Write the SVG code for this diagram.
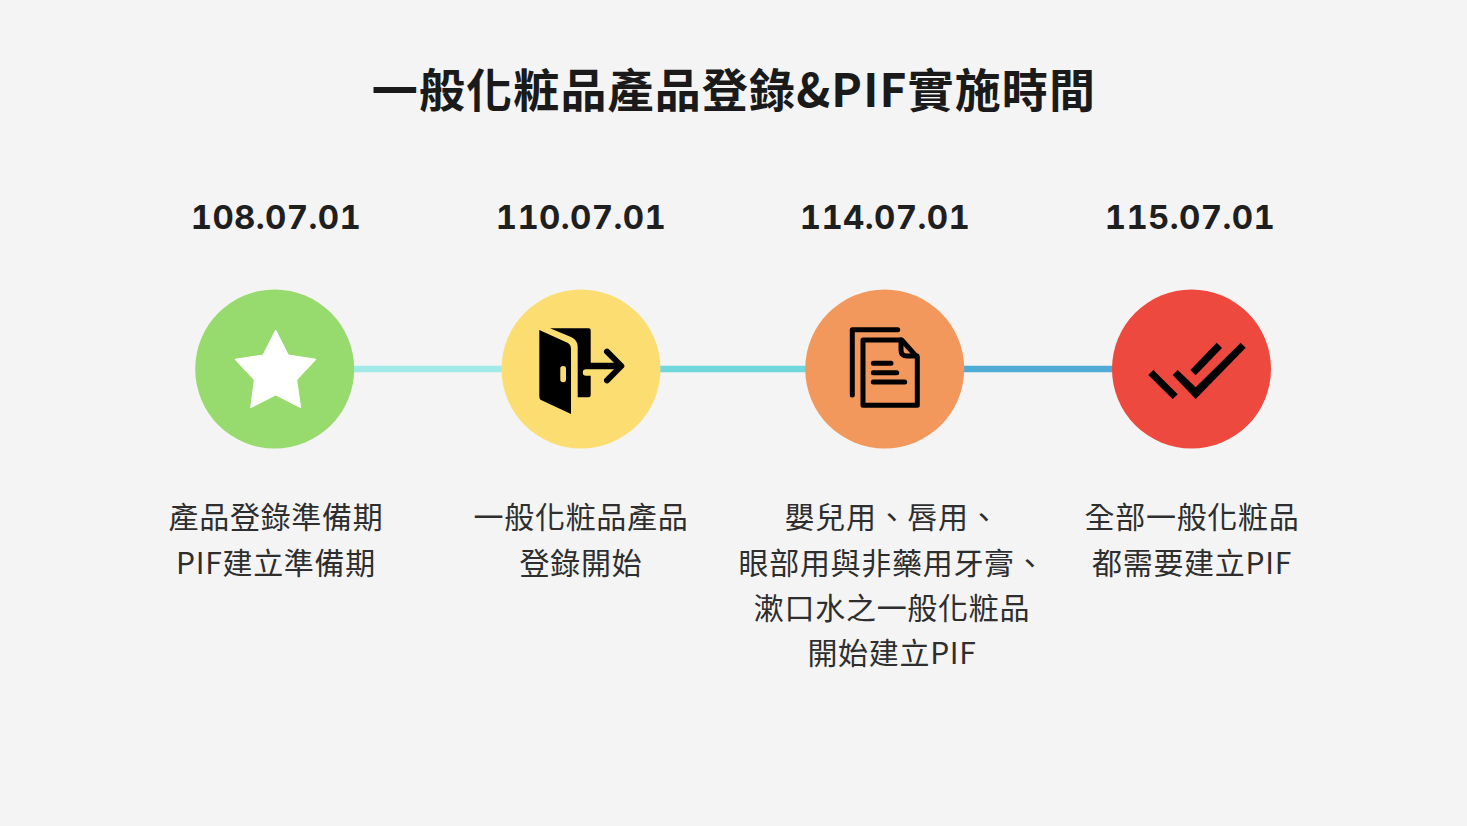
<svg xmlns="http://www.w3.org/2000/svg" width="1467" height="826" viewBox="0 0 1467 826">
<style>
.t{font-family:"Noto Sans CJK TC","Noto Sans",sans-serif;fill:#1a1a1a;text-anchor:middle}
.title{font-size:46px;font-weight:700;letter-spacing:1.15px}
.d{font-family:Inter,"Liberation Sans",sans-serif;font-size:33px;font-weight:700;fill:#1f1f1f;text-anchor:middle;font-variant-numeric:tabular-nums;letter-spacing:.4px}
.b{font-size:30px;font-weight:400;fill:#2e2e2e;letter-spacing:.7px}
.i{fill:#000}
.s{fill:none;stroke:#000;stroke-width:5;stroke-linecap:round;stroke-linejoin:round}
</style>
<rect width="1467" height="826" fill="#f4f4f4"/>
<text class="t title" x="734" y="107">一般化粧品產品登錄&amp;PIF實施時間</text>
<g id="connectors" stroke-width="6.600">
<line x1="350" y1="369" x2="506" y2="369" stroke="#a0ebe8"/>
<line x1="656" y1="369" x2="810" y2="369" stroke="#70d8dc"/>
<line x1="960" y1="369" x2="1116" y2="369" stroke="#4fabd6"/>
</g>
<g id="node1">
<text class="d" x="276" y="229">108.07.01</text>
<circle cx="274.700" cy="369" r="79.500" fill="#97da6d"/>
<polygon points="275.700,330 288.300,355 316,359.300 296.700,380 300.700,407.700 275.700,395 250.700,407.700 254.300,380 235,359.300 263,355" fill="#fff" stroke="#fff" stroke-width="1" stroke-linejoin="round"/>
<text class="t b" x="276" y="528">產品登錄準備期</text>
<text class="t b" x="276" y="573.500">PIF建立準備期</text>
</g>
<g id="node2">
<text class="d" x="581" y="229">110.07.01</text>
<circle cx="581" cy="369" r="79.500" fill="#fbdd71"/>
<path class="i" d="M550 328.300H588.700Q590.700 328.300 590.700 330.300V362.700H618V369.300H586a3.200 3.200 0 0 0 0 6.400H590.700V395Q590.700 397.300 588.700 397.300H577.700V347Q577.700 340 571 337Z"/>
<path class="i" d="M539.300 330L568 343Q571 345 571 349V414L541 400Q539.300 399 539.300 396Z"/>
<path class="s" style="stroke-width:6" d="M607 351.700L621.300 366L607 380.300"/>
<rect x="560.300" y="366" width="5.700" height="16.300" rx="2.800" fill="#fbdd71"/>
<text class="t b" x="581" y="528">一般化粧品產品</text>
<text class="t b" x="581" y="573.500">登錄開始</text>
</g>
<g id="node3">
<text class="d" x="885" y="229">114.07.01</text>
<circle cx="884.700" cy="369" r="79.500" fill="#f2985c"/>
<path class="s" d="M897.700 329.700H852.300V395"/>
<path class="s" d="M863 340H901.700L917.300 357.300V405.300H863Z"/>
<path class="s" d="M901 340V350Q901 356 907 356H917M873.300 363.300H891M873.300 372.700H896.700M873.300 382H904.700"/>
<text class="t b" x="892" y="528">嬰兒用、唇用、</text>
<text class="t b" x="892" y="573.500">眼部用與非藥用牙膏、</text>
<text class="t b" x="892" y="618.500">漱口水之一般化粧品</text>
<text class="t b" x="892" y="663.500">開始建立PIF</text>
</g>
<g id="node4">
<text class="d" x="1190" y="229">115.07.01</text>
<circle cx="1191.500" cy="369" r="79.500" fill="#ee493e"/>
<polygon class="i" points="1153.300,370 1177.700,394.300 1172.700,399 1148.300,375"/>
<polygon class="i" points="1172.700,375 1177.700,370 1195.700,387.300 1240.700,342.700 1245.700,347.700 1195.700,399"/>
<polygon class="i" points="1216.700,342.700 1222,348 1195.700,375.300 1190.300,370"/>
<text class="t b" x="1192" y="528">全部一般化粧品</text>
<text class="t b" x="1192" y="573.500">都需要建立PIF</text>
</g>
</svg>
